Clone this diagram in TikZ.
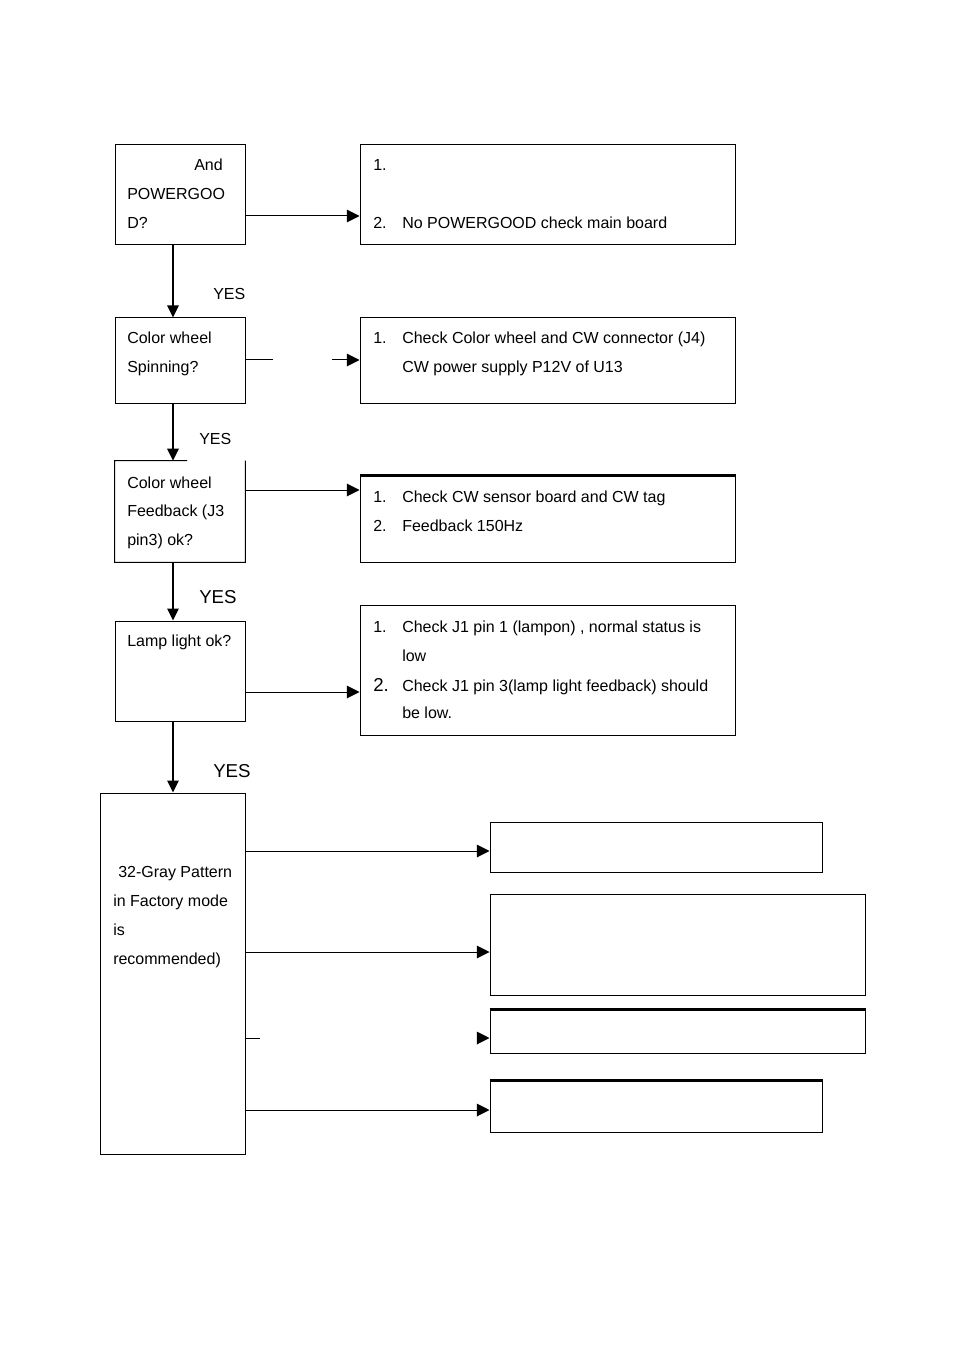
\documentclass[tikz,border=0pt]{standalone}
\usepackage{fontspec}
\setmainfont{Liberation Sans}
\usetikzlibrary{fit,arrows.meta,calc}
\begin{document}
\begin{tikzpicture}[x=0.75pt,y=-0.75pt,
 box/.style={draw,line width=0.75pt,inner sep=0pt},
 nobox/.style={inner sep=0pt},
 txt/.style={anchor=base west,inner sep=0pt,yshift=-1.2pt,font=\fontsize{12pt}{14pt}\selectfont},
 bigtxt/.style={anchor=base west,inner sep=0pt,yshift=-1.2pt,font=\fontsize{14pt}{16pt}\selectfont},
 arr/.style={line width=0.75pt,-{Triangle[length=9.5pt,width=9.5pt]}},
 varr/.style={line width=1.6pt,-{Triangle[length=9pt,width=8.5pt]}},
 plainline/.style={line width=0.75pt},
 thicktop/.style={line width=1.6pt}]
\useasboundingbox[fill=white] (0,0) rectangle (954,1351);

% coordinates used by connectors
\coordinate (vx) at (173,0);
\coordinate (yA) at (0,216);
\coordinate (yB) at (0,360);
\coordinate (yC) at (0,490);
\coordinate (yD) at (0,692);
\coordinate (y1) at (0,851);
\coordinate (y2) at (0,952);
\coordinate (y3) at (0,1038);
\coordinate (y4) at (0,1110);
\coordinate (b1) at (273,360);
\coordinate (b2) at (332,360);
\coordinate (e1) at (260,1038);
\coordinate (e2) at (477,1038);

% boxes
\node[box, fit={(115,145)(245,245)}] (A) {};
\node[box, fit={(360,145)(735,245)}] (AR) {};
\node[box, fit={(115,318)(245,403)}] (B) {};
\node[box, fit={(360,318)(735,403)}] (BR) {};
\node[nobox, fit={(115,461)(245,562)}] (C) {};
\node[box, fit={(360,476)(735,562)}] (CR) {};
\node[box, fit={(115,621)(245,721)}] (D) {};
\node[box, fit={(360,605)(735,735)}] (DR) {};
\node[box, fit={(100,793)(245,1154)}] (E) {};
\node[box, fit={(490,822)(822,872)}] (E1) {};
\node[box, fit={(490,894)(865,995)}] (E2) {};
\node[box, fit={(490,1010)(865,1053)}] (E3) {};
\node[box, fit={(490,1081)(822,1132)}] (E4) {};

% partial frame of C and heavier tops
\draw[plainline] ($(C.north west)!0.554!(C.north east)$) -- (C.north west) -- (C.south west) -- (C.south east) -- (C.north east);
\draw[thicktop] (CR.north west) -- (CR.north east);
\draw[thicktop] (E3.north west) -- (E3.north east);
\draw[thicktop] (E4.north west) -- (E4.north east);

% texts
\node[txt] (tA1) at (194,169) {And};
\node[txt] (tA2) at (127,198) {POWERGOO};
\node[txt] (tA3) at (127,227) {D?};
\node[txt] (tAR1) at (373,169) {1.};
\node[txt] (tAR2) at (373,227) {2.};
\node[txt] (tAR3) at (402,227) {No POWERGOOD check main board};
\node[txt] (yes1) at (213,298) {YES};
\node[txt] (tB1) at (127,342) {Color wheel};
\node[txt] (tB2) at (127,371) {Spinning?};
\node[txt] (tBR1) at (373,342) {1.};
\node[txt] (tBR2) at (402,342) {Check Color wheel and CW connector (J4)};
\node[txt] (tBR3) at (402,371) {CW power supply P12V of U13};
\node[txt] (yes2) at (199,443) {YES};
\node[txt] (tC1) at (127,487) {Color wheel};
\node[txt] (tC2) at (127,515) {Feedback (J3};
\node[txt] (tC3) at (127,544) {pin3) ok?};
\node[txt] (tCR1) at (373,501) {1.};
\node[txt] (tCR2) at (402,501) {Check CW sensor board and CW tag};
\node[txt] (tCR3) at (373,530) {2.};
\node[txt] (tCR4) at (402,530) {Feedback 150Hz};
\node[bigtxt] (yes3) at (199,602) {YES};
\node[txt] (tD1) at (127,645) {Lamp light ok?};
\node[txt] (tDR1) at (373,631) {1.};
\node[txt] (tDR2) at (402,631) {Check J1 pin 1 (lampon) , normal status is};
\node[txt] (tDR3) at (402,660) {low};
\node[bigtxt] (tDR4) at (373,690) {2.};
\node[txt] (tDR5) at (402,690) {Check J1 pin 3(lamp light feedback) should};
\node[txt] (tDR6) at (402,717) {be low.};
\node[bigtxt] (yes4) at (213,776) {YES};
\node[txt] (tE1) at (118,876) {32-Gray Pattern};
\node[txt] (tE2) at (113,905) {in Factory mode};
\node[txt] (tE3) at (113,934) {is};
\node[txt] (tE4) at (113,963) {recommended)};

% vertical connectors
\draw[varr] (A.south -| vx) -- (B.north -| vx);
\draw[varr] (B.south -| vx) -- (C.north -| vx);
\draw[varr] (C.south -| vx) -- (D.north -| vx);
\draw[varr] (D.south -| vx) -- (E.north -| vx);

% horizontal connectors
\draw[arr] (A.east |- yA) -- (AR.west |- yA);
\draw[plainline] (B.east |- yB) -- (b1);
\draw[arr] (b2) -- (BR.west |- yB);
\draw[arr] (C.east |- yC) -- (CR.west |- yC);
\draw[arr] (D.east |- yD) -- (DR.west |- yD);
\draw[arr] (E.east |- y1) -- (E1.west |- y1);
\draw[arr] (E.east |- y2) -- (E2.west |- y2);
\draw[plainline] (E.east |- y3) -- (e1);
\draw[arr] (e2) -- (E3.west |- y3);
\draw[arr] (E.east |- y4) -- (E4.west |- y4);
\end{tikzpicture}
\end{document}
